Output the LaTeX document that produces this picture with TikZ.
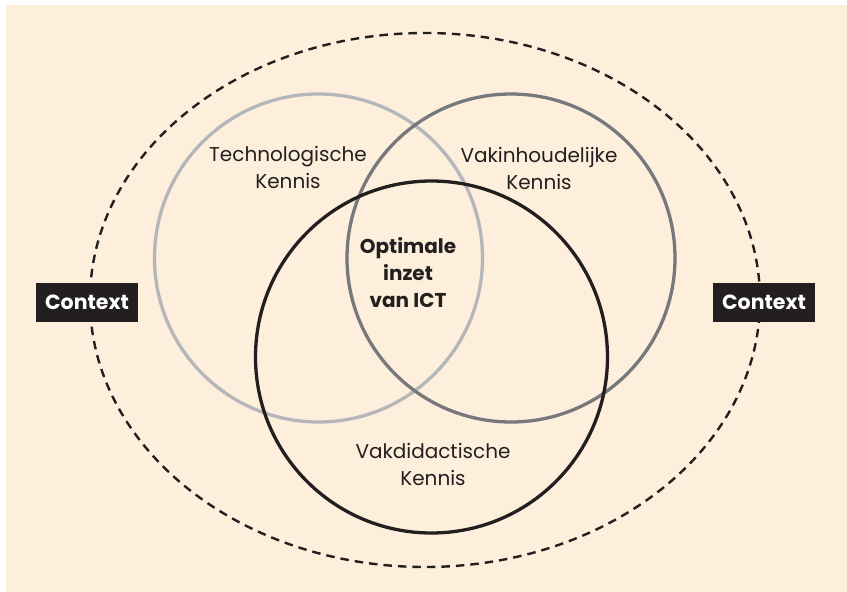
\documentclass[tikz,border=0pt]{standalone}
\usepackage{fontspec}
\setmainfont{Poppins}
\definecolor{cream}{HTML}{FDEFDB}
\definecolor{lgray}{HTML}{B4B6B9}
\definecolor{dgray}{HTML}{77787B}
\definecolor{ink}{HTML}{231F20}
\tikzset{
  ring/.style={line width=3.3pt},
  lbl/.style={text=ink, font=\fontsize{20}{27}\selectfont, align=center, inner sep=0pt},
  ctx/.style={fill=ink, text=white, font=\fontsize{20.5}{22}\selectfont\bfseries, minimum width=102pt, minimum height=39pt, inner sep=0pt},
}
\begin{document}
\begin{tikzpicture}[x=1pt,y=-1pt]
\useasboundingbox (0,0) rectangle (847,592);
\fill[white] (0,0) rectangle (847,592);
\fill[cream] (6,5) rectangle (847,592);
\draw[ink, line width=2.4pt, dash pattern=on 8.5pt off 6pt] (425,300) ellipse [x radius=335, y radius=267];
\draw[lgray, ring] (318.5,258) circle [radius=164];
\draw[dgray, ring] (511,258) circle [radius=164];
\draw[ink, ring] (431.5,357) circle [radius=176];
\node[lbl] (tk) at (288,167) {Technologische\\Kennis};
\node[lbl] (vk) at (539,168) {Vakinhoudelijke\\Kennis};
\node[lbl, font=\fontsize{20}{27}\selectfont\bfseries] (opt) at (408,273) {Optimale\\inzet\\van ICT};
\node[lbl] (vd) at (433,464) {Vakdidactische\\Kennis};
\node[ctx] (cl) at (87,302.5) {Context};
\node[ctx] (cr) at (764,302.5) {Context};
\end{tikzpicture}
\end{document}
